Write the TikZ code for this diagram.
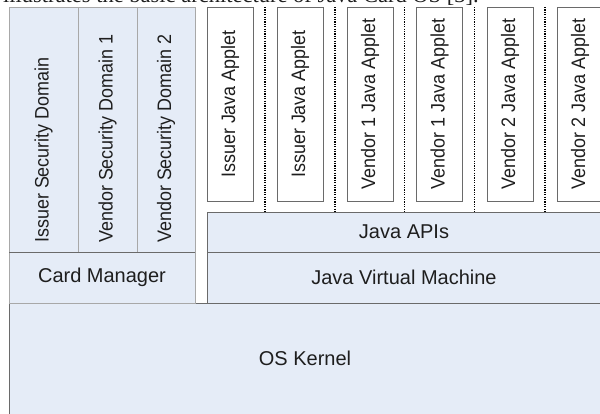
\documentclass[tikz,border=0pt]{standalone}
\usepackage{fontspec}
\setmainfont{Liberation Sans}
\newfontfamily\hdrfont{Liberation Serif}
\newfontfamily\vfont[FakeStretch=0.92]{Liberation Sans}
\usetikzlibrary{calc}
\definecolor{fillb}{HTML}{E5ECF7}
\definecolor{lgrey}{HTML}{A8A8A8}
\definecolor{dgrey}{HTML}{6A6A6A}
\definecolor{txt}{HTML}{1E1E1E}
\tikzset{
  blk/.style={draw=dgrey, fill=fillb, inner sep=0pt, outer sep=0pt, line width=0.8pt, anchor=north west},
  lblk/.style={blk, draw=lgrey},
  appbox/.style={draw=dgrey, fill=white, inner sep=0pt, outer sep=0pt, line width=0.8pt, anchor=north west, minimum width=46pt, minimum height=194pt},
  hlab/.style={font=\fontsize{20}{22}\selectfont, text=txt, inner sep=0pt},
  vlab/.style={font=\vfont\fontsize{19.5}{21}\selectfont, text=txt, inner sep=0pt, rotate=90},
  sepline/.style={black, line width=1.2pt, dash pattern=on 1.2pt off 1.2pt},
}
\begin{document}
\begin{tikzpicture}[x=1pt,y=-1pt]
\useasboundingbox (0,0) rectangle (600,413);
\clip (0,0) rectangle (600,413);
% cropped caption line above the figure
\node[anchor=base west, font=\hdrfont\fontsize{22.5}{24}\selectfont, inner sep=0pt, text=txt] (hdr) at (3,2) {illustrates the basic architecture of Java Card OS [3].};
% OS kernel
\node[blk, minimum width=595pt, minimum height=114pt] (os) at (9,303) {};
\node[hlab] (osl) at (305,358) {OS Kernel};
% left block
\node[lblk, minimum width=69pt, minimum height=245pt] (isd) at (9,7) {};
\node[lblk, minimum width=59pt, minimum height=245pt] (vsd1) at (78,7) {};
\node[lblk, minimum width=58pt, minimum height=245pt] (vsd2) at (137,7) {};
\node[lblk, minimum width=186pt, minimum height=51pt] (cm) at (9,252) {};
\draw[dgrey, line width=0.8pt] (cm.north west) -- (cm.north east);
\node[vlab, anchor=west] (isdl) at (43.5,243) {Issuer Security Domain};
\node[vlab, anchor=west] (vsd1l) at (107.5,243) {Vendor Security Domain 1};
\node[vlab, anchor=west] (vsd2l) at (166,243) {Vendor Security Domain 2};
\node[hlab] (cml) at (cm.center) {Card Manager};
% right block
\node[blk, minimum width=396pt, minimum height=40pt] (api) at (207,212) {};
\node[blk, minimum width=396pt, minimum height=51pt] (jvm) at (207,252) {};
\node[hlab] (apil) at (404,232) {Java APIs};
\node[hlab] (jvml) at (404,277.5) {Java Virtual Machine};
% applets
\node[appbox] (a1) at (207,7) {};
\node[appbox] (a2) at (277,7) {};
\node[appbox] (a3) at (347,7) {};
\node[appbox] (a4) at (416.5,7) {};
\node[appbox] (a5) at (487,7) {};
\node[appbox] (a6) at (557,7) {};
\node[vlab] (a1l) at (a1.center) {Issuer Java Applet};
\node[vlab] (a2l) at (a2.center) {Issuer Java Applet};
\node[vlab] (a3l) at (a3.center) {Vendor 1 Java Applet};
\node[vlab] (a4l) at (a4.center) {Vendor 1 Java Applet};
\node[vlab] (a5l) at (a5.center) {Vendor 2 Java Applet};
\node[vlab] (a6l) at (580,104) {Vendor 2 Java Applet};
% dotted separators
\foreach \l/\r [count=\i] in {a1/a2,a2/a3,a3/a4,a4/a5,a5/a6}{
  \coordinate (s\i) at ($(\l.north east)!0.5!(\r.north west)$);
  \draw[sepline] (s\i) -- (s\i |- api.north);
}
\end{tikzpicture}
\end{document}
